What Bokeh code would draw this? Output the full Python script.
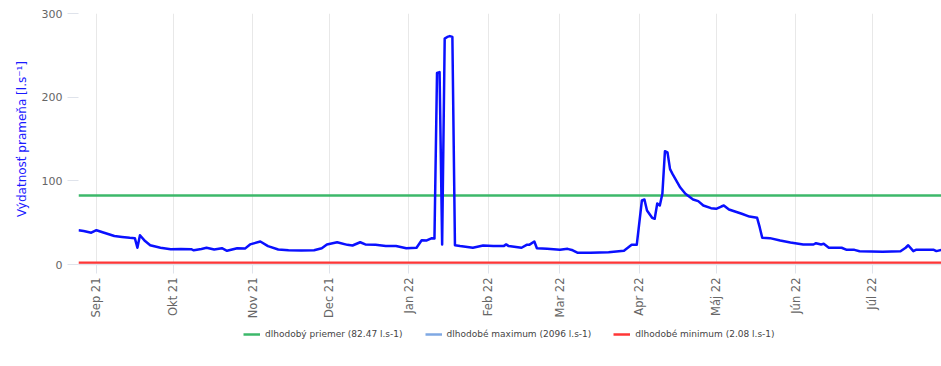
import math
import pandas as pd
from bokeh.plotting import figure
from bokeh.layouts import column
from bokeh.models import Range1d, FixedTicker, Legend, LegendItem
from bokeh.embed import file_html
from bokeh.resources import INLINE

# ---- data -------------------------------------------------------------
dates = [
    "2021-08-25", "2021-08-27", "2021-08-30", "2021-09-01", "2021-09-04", "2021-09-08",
    "2021-09-11", "2021-09-14", "2021-09-16", "2021-09-17", "2021-09-18", "2021-09-20",
    "2021-09-22", "2021-09-26", "2021-09-30", "2021-10-04", "2021-10-08", "2021-10-09",
    "2021-10-12", "2021-10-14", "2021-10-17", "2021-10-20", "2021-10-22", "2021-10-26",
    "2021-10-29", "2021-10-31", "2021-11-04", "2021-11-07", "2021-11-11", "2021-11-15",
    "2021-11-20", "2021-11-25", "2021-11-28", "2021-11-30", "2021-12-04", "2021-12-08",
    "2021-12-10", "2021-12-13", "2021-12-15", "2021-12-19", "2021-12-23", "2021-12-27",
    "2021-12-31", "2022-01-04", "2022-01-06", "2022-01-08", "2022-01-10", "2022-01-11",
    "2022-01-12", "2022-01-13", "2022-01-14", "2022-01-15", "2022-01-16", "2022-01-17",
    "2022-01-18", "2022-01-19", "2022-01-21", "2022-01-26", "2022-01-30", "2022-02-03",
    "2022-02-07", "2022-02-08", "2022-02-09", "2022-02-14", "2022-02-16", "2022-02-17",
    "2022-02-19", "2022-02-20", "2022-02-24", "2022-03-01", "2022-03-04", "2022-03-06",
    "2022-03-08", "2022-03-13", "2022-03-20", "2022-03-26", "2022-03-29", "2022-03-31",
    "2022-04-02", "2022-04-03", "2022-04-04", "2022-04-06", "2022-04-07", "2022-04-08",
    "2022-04-09", "2022-04-10", "2022-04-11", "2022-04-12", "2022-04-13", "2022-04-14",
    "2022-04-17", "2022-04-19", "2022-04-22", "2022-04-24", "2022-04-26", "2022-04-29",
    "2022-05-01", "2022-05-03", "2022-05-04", "2022-05-06", "2022-05-11", "2022-05-14",
    "2022-05-17", "2022-05-18", "2022-05-19", "2022-05-22", "2022-05-26", "2022-05-30",
    "2022-06-04", "2022-06-08", "2022-06-09", "2022-06-11", "2022-06-12", "2022-06-14",
    "2022-06-19", "2022-06-21", "2022-06-24", "2022-06-26", "2022-07-05", "2022-07-12",
    "2022-07-14", "2022-07-15", "2022-07-17", "2022-07-18", "2022-07-25", "2022-07-26",
    "2022-07-28",
]
flow = [
    41, 40, 38, 41, 38, 34,
    33, 32, 31.5, 20, 35, 28,
    23, 20, 18.3, 18.5, 18.3, 17,
    18.5, 20, 18, 19.5, 16.4, 19.5,
    19, 24, 27.5, 22, 18, 17,
    16.8, 17, 19.5, 24, 26.6, 23.5,
    22.7, 26.6, 24, 23.5, 22, 22,
    19.5, 20, 29, 28.7, 31.5, 31,
    229, 230, 24, 270, 272, 273,
    272, 23, 22, 20, 22.7, 22,
    22, 24, 22, 20, 23.5, 23.5,
    27.5, 19.5, 18.7, 17.5, 18.7, 17,
    14, 14, 14.7, 16.4, 23.5, 23.5,
    76.5, 77.7, 64.5, 55.8, 54.6, 73,
    70.5, 84.5, 135.4, 134, 114, 108,
    92, 84.5, 77.7, 75.7, 70.5, 67.3,
    66.5, 69.3, 70.5, 65.7, 60.6, 57.3,
    55.8, 44.6, 31.9, 31.5, 28.7, 26.3,
    23.9, 23.9, 25.5, 24, 24.7, 20,
    20, 17.5, 17.5, 15.9, 15.1, 15.9,
    20, 23, 16, 17.5, 17.5, 16,
    17.5,
]

long_mean = 82.47
long_max = 2096
long_min = 2.08
legend_labels = [
    "dlhodobý priemer (82.47 l.s-1)",
    "dlhodobé maximum (2096 l.s-1)",
    "dlhodobé minimum (2.08 l.s-1)",
]

tick_dates = ["2021-09-01", "2021-10-01", "2021-11-01", "2021-12-01", "2022-01-01",
              "2022-02-01", "2022-03-01", "2022-04-01", "2022-05-01", "2022-06-01",
              "2022-07-01"]
tick_labels = ["Sep 21", "Okt 21", "Nov 21", "Dec 21", "Jan 22", "Feb 22", "Mar 22",
               "Apr 22", "Máj 22", "Jún 22", "Júl 22"]
y_ticks = [0, 100, 200, 300]
y_title = "Výdatnosť prameňa [l.s⁻¹]"

colors = {"mean": "#3cb86a", "max": "#7fa8e3", "min": "#ff3636", "flow": "#0a10ff"}

# ---- main figure ------------------------------------------------------
x = pd.to_datetime(dates)
x0, x1 = x[0], x[-1]

p = figure(width=941, height=322, x_axis_type="datetime",
           x_range=Range1d(x0, x1), y_range=Range1d(0, 300),
           output_backend="svg", toolbar_location=None,
           min_border_left=78, min_border_right=0, min_border_top=13,
           min_border_bottom=58)
p.outline_line_color = None
p.background_fill_color = "white"

p.line([x0, x1], [long_mean, long_mean], line_color=colors["mean"], line_width=2.5)
p.line([x0, x1], [long_max, long_max], line_color=colors["max"], line_width=2.5)
p.line([x0, x1], [long_min, long_min], line_color=colors["min"], line_width=2.5)
p.line(x, flow, line_color=colors["flow"], line_width=2.5, line_join="round")

tick_ms = [int(v) for v in (pd.to_datetime(tick_dates).astype("int64") // 10**6)]
p.xaxis.ticker = FixedTicker(ticks=tick_ms)
p.xaxis.major_label_overrides = {t: lab for t, lab in zip(tick_ms, tick_labels)}
p.xaxis.major_label_orientation = math.pi / 2
p.xaxis.major_label_text_font = "DejaVu Sans"
p.xaxis.major_label_text_font_size = "11.5px"
p.xaxis.major_label_text_color = "#666666"
p.xaxis.major_label_standoff = 4
p.xaxis.axis_line_color = "#e1e5ed"
p.xaxis.axis_line_width = 1.5
p.xaxis.major_tick_line_color = "#dfe3eb"
p.xaxis.major_tick_out = 9
p.xaxis.major_tick_in = 0
p.xaxis.minor_tick_line_color = None

p.yaxis.ticker = FixedTicker(ticks=y_ticks)
p.yaxis.major_label_text_font = "DejaVu Sans"
p.yaxis.major_label_text_font_size = "11px"
p.yaxis.major_label_text_color = "#666666"
p.yaxis.major_label_standoff = 5
p.yaxis.axis_line_color = None
p.yaxis.major_tick_line_color = "#dfe3eb"
p.yaxis.major_tick_out = 11
p.yaxis.major_tick_in = 0
p.yaxis.minor_tick_line_color = None
p.yaxis.axis_label = y_title
p.yaxis.axis_label_text_font = "DejaVu Sans"
p.yaxis.axis_label_text_font_size = "12px"
p.yaxis.axis_label_text_font_style = "normal"
p.yaxis.axis_label_text_color = "#1a1aff"
p.yaxis.axis_label_standoff = 10

p.xgrid.grid_line_color = "#e8e8e8"
p.xgrid.grid_line_width = 1
p.ygrid.grid_line_color = None

# ---- legend strip (separate figure below, frame aligned with the main one) ----
lg = figure(width=941, height=30, x_range=Range1d(x0, x1), y_range=Range1d(-1, 0),
            output_backend="svg", toolbar_location=None,
            x_axis_location=None, y_axis_location=None, min_border=0)
lg.outline_line_color = None
lg.xgrid.grid_line_color = None
lg.ygrid.grid_line_color = None
# drawn at the reference values, which lie outside this strip's range (only the legend shows)
l_mean = lg.line([x0, x1], [long_mean, long_mean], line_color=colors["mean"], line_width=2.5)
l_max = lg.line([x0, x1], [long_max, long_max], line_color=colors["max"], line_width=2.5)
l_min = lg.line([x0, x1], [long_min, long_min], line_color=colors["min"], line_width=2.5)

legend = Legend(items=[LegendItem(label=legend_labels[0], renderers=[l_mean]),
                       LegendItem(label=legend_labels[1], renderers=[l_max]),
                       LegendItem(label=legend_labels[2], renderers=[l_min])],
                orientation="horizontal", location=(165, 12),
                glyph_width=17, glyph_height=12, label_standoff=5, spacing=22,
                padding=2, margin=0, border_line_color=None,
                background_fill_alpha=0,
                label_text_font="DejaVu Sans", label_text_font_size="9px",
                label_text_color="#444444")
lg.add_layout(legend, "center")

layout = column(p, lg, spacing=0)
open("out.html", "w").write(file_html(layout, INLINE))
